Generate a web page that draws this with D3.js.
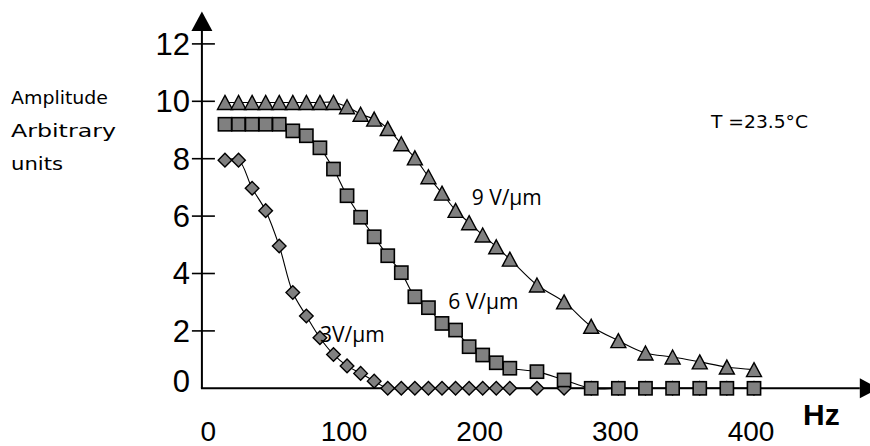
<!DOCTYPE html>
<html>
<head>
<meta charset="utf-8">
<script src="https://cdn.jsdelivr.net/npm/d3@7"></script>
<style>
  html, body { margin: 0; padding: 0; background: #fff; }
  svg { display: block; }
</style>
</head>
<body>
<svg id="chart" width="870" height="446"></svg>
<script>
// ---- data ----
const freqs = [10,20,30,40,50,60,70,80,90,100,110,120,130,140,150,160,170,180,190,200,210,220,240,260,280,300,320,340,360,380,400];
const amp3 = [7.95,7.95,6.97,6.19,4.96,3.34,2.52,1.76,1.18,0.78,0.52,0.25,0,0,0,0,0,0,0,0,0,0,0,0,0,0,0,0,0,0,0];
const amp6 = [9.2,9.2,9.2,9.2,9.2,8.97,8.8,8.38,7.64,6.71,5.96,5.28,4.62,4.03,3.19,2.81,2.26,2.03,1.45,1.16,0.89,0.7,0.58,0.29,0,0,0,0,0,0,0];
const amp9 = [9.96,9.96,9.96,9.96,9.96,9.96,9.96,9.96,9.96,9.81,9.55,9.38,9.05,8.52,8.03,7.37,6.8,6.2,5.77,5.34,4.93,4.5,3.6,3.01,2.16,1.66,1.23,1.09,0.92,0.74,0.65];
const yTicks = [0,2,4,6,8,10,12];
const xTicks = [0,100,200,300,400];
const seriesLabels = ["3V/µm","6 V/µm","9 V/µm"];
const yTitle = ["Amplitude","Arbitrary","units"];
const xTitle = "Hz";
const note = "T =23.5°C";

// ---- scales ----
const x = d3.scaleLinear().domain([0,400]).range([211.4,754]);
const y = d3.scaleLinear().domain([0,12]).range([388.3,43.9]);

const svg = d3.select("#chart");
svg.append("rect").attr("width",870).attr("height",446).attr("fill","#fff");

const axisX = x(-7);     // y-axis position
const axisY = y(0);      // x-axis position
const xEnd = x(478);
const yTop = y(12.45);

// axes lines
svg.append("line").attr("x1",axisX).attr("x2",axisX).attr("y1",axisY).attr("y2",yTop)
  .attr("stroke","#000").attr("stroke-width",2);
svg.append("path").attr("d",`M${axisX},${yTop-19.5} L${axisX+10.5},${yTop} L${axisX-10.5},${yTop} Z`).attr("fill","#000");
svg.append("line").attr("x1",axisX-1).attr("x2",xEnd).attr("y1",axisY).attr("y2",axisY)
  .attr("stroke","#000").attr("stroke-width",2);
svg.append("path").attr("d",`M${xEnd+19},${axisY} L${xEnd},${axisY-10} L${xEnd},${axisY+10} Z`).attr("fill","#000");

// y ticks
svg.selectAll(".ytick").data(yTicks.filter(d=>d>0)).join("line")
  .attr("x1",axisX-10).attr("x2",axisX+13)
  .attr("y1",d=>y(d)).attr("y2",d=>y(d))
  .attr("stroke","#000").attr("stroke-width",1.6);
svg.selectAll(".ylab").data(yTicks).join("text")
  .attr("x",axisX-12).attr("y",d=>y(d))
  .attr("dy",d=>d===0?"0.11em":"0.35em")
  .attr("text-anchor","end")
  .attr("font-family","'Liberation Sans', Arial, sans-serif")
  .attr("font-size",31).attr("fill","#000")
  .text(d=>d);
svg.selectAll(".xlab").data(xTicks).join("text")
  .attr("x",d=>x(d)-3).attr("y",441)
  .attr("text-anchor","middle")
  .attr("font-family","'Liberation Sans', Arial, sans-serif")
  .attr("font-size",28).attr("fill","#000")
  .text(d=>d);
svg.append("text").attr("x",803).attr("y",425)
  .attr("font-family","'Liberation Sans', Arial, sans-serif")
  .attr("font-weight","bold").attr("font-size",30).text(xTitle);

// y title
const yt = [103.5,136.5,170];
const yw = [97,105,52];
svg.selectAll(".ytitle").data(yTitle).join("text")
  .attr("x",11).attr("y",(d,i)=>yt[i])
  .attr("font-family","'Comic Sans MS','DejaVu Sans',sans-serif")
  .attr("font-size",18).attr("fill","#000")
  .attr("textLength",(d,i)=>yw[i]).attr("lengthAdjust","spacingAndGlyphs")
  .text(d=>d);
svg.append("text").attr("x",711).attr("y",127.7)
  .attr("font-family","'Comic Sans MS','DejaVu Sans',sans-serif")
  .attr("font-size",18.5).attr("fill","#000")
  .attr("textLength",97).attr("lengthAdjust","spacingAndGlyphs").text(note);

// series
const line = d3.line().x(d=>x(d[0])).y(d=>y(d[1])).curve(d3.curveCatmullRom.alpha(0.5));
const mk = (vals)=>freqs.map((f,i)=>[f,vals[i]]);
const s3 = mk(amp3), s6 = mk(amp6), s9 = mk(amp9);

function drawLine(data){
  svg.append("path").attr("d",line(data)).attr("fill","none").attr("stroke","#000").attr("stroke-width",1.1);
}
const fill = "#808080";
drawLine(s3);
svg.selectAll(".dia").data(s3).join("path")
  .attr("d","M0,-6.8 L6.8,0 L0,6.8 L-6.8,0 Z")
  .attr("transform",d=>`translate(${x(d[0])},${y(d[1])})`)
  .attr("fill",fill).attr("stroke","#000").attr("stroke-width",1.4);
drawLine(s9);
svg.selectAll(".tri").data(s9).join("path")
  .attr("d","M0,-7 L7.5,7 L-7.5,7 Z")
  .attr("transform",d=>`translate(${x(d[0])},${y(d[1])})`)
  .attr("fill",fill).attr("stroke","#000").attr("stroke-width",1.4).attr("stroke-linejoin","miter");
drawLine(s6);
svg.selectAll(".sq").data(s6).join("rect")
  .attr("x",d=>x(d[0])-6.6).attr("y",d=>y(d[1])-6.6)
  .attr("width",13.2).attr("height",13.2)
  .attr("fill",fill).attr("stroke","#000").attr("stroke-width",1.6);

// series labels
const lblPos = [[320,341.7],[448.3,309.3],[471.7,205]];
svg.selectAll(".slab").data(seriesLabels).join("text")
  .attr("x",(d,i)=>lblPos[i][0]).attr("y",(d,i)=>lblPos[i][1])
  .attr("font-family","'Open Sans', sans-serif")
  .attr("font-size",21).attr("fill","#000")
  .text(d=>d);
</script>
</body>
</html>
